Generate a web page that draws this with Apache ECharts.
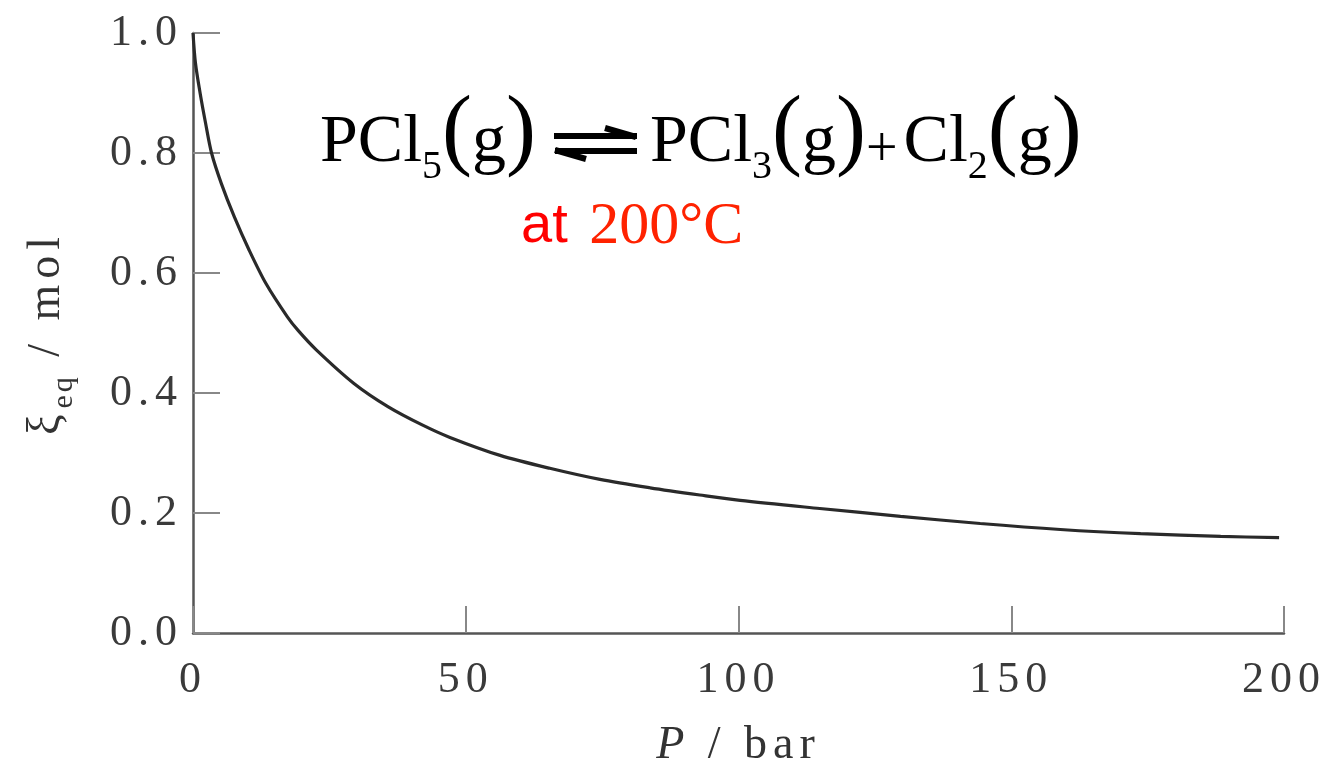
<!DOCTYPE html>
<html>
<head>
<meta charset="utf-8">
<script src="https://cdn.jsdelivr.net/npm/echarts@6/dist/echarts.min.js"></script>
<style>
html,body{margin:0;padding:0;background:#fff;}
#chart{width:1330px;height:762px;}
</style>
</head>
<body>
<div id="chart"></div>
<script>
// Data
const pressure = [0, 0.45, 1.3, 2.3, 3.4, 5.2, 7.6, 10.3, 13.4, 17.3, 19.3, 22.6, 29.5, 35.8, 42.2, 47.1, 56.3, 65.4, 74.6, 83.8, 92.9, 100.3, 114.9, 129.7, 144.3, 159.0, 173.7, 188.4, 199.1];
const xiEq = [1.0, 0.95, 0.90, 0.85, 0.80, 0.749, 0.693, 0.638, 0.582, 0.527, 0.504, 0.472, 0.416, 0.377, 0.346, 0.326, 0.296, 0.2745, 0.256, 0.242, 0.230, 0.221, 0.2075, 0.1945, 0.1825, 0.1725, 0.1655, 0.161, 0.159];
const xTickLabels = ['0', '50', '100', '150', '200'];
const yTickLabels = ['0.0', '0.2', '0.4', '0.6', '0.8', '1.0'];
const xTickValues = [0, 50, 100, 150, 200];
const yTickValues = [0, 0.2, 0.4, 0.6, 0.8, 1.0];

// Wide tracking of the axis texts (canvas letterSpacing, chosen by font size)
(function () {
  const P = CanvasRenderingContext2D.prototype;
  const spacingFor = function (f) {
    if (/(^|\s)(44|46)px/.test(f)) return '6px';
    if (/(^|\s)30px/.test(f)) return '3px';
    return '0px';
  };
  const ft = P.fillText, mt = P.measureText;
  P.fillText = function () { this.letterSpacing = spacingFor(this.font); return ft.apply(this, arguments); };
  P.measureText = function () { this.letterSpacing = spacingFor(this.font); return mt.apply(this, arguments); };
})();

const serif = 'Liberation Serif';
const sans = 'Liberation Sans';

const chart = echarts.init(document.getElementById('chart'), null, {renderer: 'canvas', width: 1330, height: 762});

const seriesData = pressure.map((p, i) => [p, xiEq[i]]);

function tickLabel(values, labels) {
  return function (v) {
    for (let i = 0; i < values.length; i++) {
      if (Math.abs(values[i] - v) < 1e-6) return labels[i];
    }
    return '';
  };
}

const option = {
  backgroundColor: '#fff',
  animation: false,
  grid: {left: 193, right: 46, top: 33, bottom: 129, containLabel: false, outerBoundsMode: 'none'},
  xAxis: {
    type: 'value', min: 0, max: 200, interval: 50,
    name: '{i|P}{n| / bar}',
    nameLocation: 'middle', nameGap: 87,
    nameTextStyle: {
      rich: {
        i: {fontFamily: serif, fontStyle: 'italic', fontSize: 46, color: '#333'},
        n: {fontFamily: serif, fontSize: 46, color: '#333'}
      }
    },
    axisLine: {show: true, onZero: false, lineStyle: {color: '#555', width: 2.5}},
    axisTick: {show: true, inside: true, length: 27, lineStyle: {color: '#888', width: 2}},
    axisLabel: {show: true, margin: 22, fontFamily: serif, fontSize: 44, color: '#3a3a3a',
      formatter: tickLabel(xTickValues, xTickLabels)},
    splitLine: {show: false}
  },
  yAxis: {
    type: 'value', min: 0, max: 1, interval: 0.2,
    name: '{g|ξ}{sub|eq}{n| / mol}',
    nameLocation: 'middle', nameRotate: 90, nameGap: 112,
    nameTextStyle: {
      rich: {
        g: {fontFamily: serif, fontSize: 46, color: '#333'},
        sub: {fontFamily: serif, fontSize: 30, color: '#333', padding: [36, 0, 0, 0]},
        n: {fontFamily: serif, fontSize: 46, color: '#333'}
      }
    },
    axisLine: {show: true, onZero: false, lineStyle: {color: '#555', width: 2.5}},
    axisTick: {show: true, inside: true, length: 27, lineStyle: {color: '#888', width: 2}},
    axisLabel: {show: true, margin: 10, fontFamily: serif, fontSize: 44, color: '#3a3a3a',
      formatter: tickLabel(yTickValues, yTickLabels)},
    splitLine: {show: false}
  },
  graphic: [
    {
      type: 'text', left: 320, top: 89,
      style: {
        text: '{m|PCl}{s|5}{p|(}{m|g}{p|)}',
        rich: {
          m: {fontFamily: serif, fontSize: 68, fill: '#000'},
          s: {fontFamily: serif, fontSize: 40, fill: '#000', padding: [49, 0, 0, 0]},
          p: {fontFamily: serif, fontSize: 90, fill: '#000', padding: [0, 0, 18, 0]}
        }
      }
    },
    {
      type: 'group', left: 551, top: 125,
      children: [
        {type: 'line', shape: {x1: 0, y1: 11, x2: 83, y2: 11}, style: {stroke: '#000', lineWidth: 6}},
        {type: 'line', shape: {x1: 51, y1: 3, x2: 82, y2: 12}, style: {stroke: '#000', lineWidth: 6}},
        {type: 'line', shape: {x1: 1, y1: 26, x2: 83, y2: 26}, style: {stroke: '#000', lineWidth: 6}},
        {type: 'line', shape: {x1: 1, y1: 25, x2: 32, y2: 34}, style: {stroke: '#000', lineWidth: 6}}
      ]
    },
    {
      type: 'text', left: 650, top: 89,
      style: {
        text: '{m|PCl}{s|3}{p|(}{m|g}{p|)}{plus|+}{m|Cl}{s|2}{p|(}{m|g}{p|)}',
        rich: {
          m: {fontFamily: serif, fontSize: 68, fill: '#000'},
          s: {fontFamily: serif, fontSize: 40, fill: '#000', padding: [49, 0, 0, 0]},
          p: {fontFamily: serif, fontSize: 90, fill: '#000', padding: [0, 0, 18, 0]},
          plus: {fontFamily: serif, fontSize: 56, fill: '#000', padding: [17, 6, 0, 0]}
        }
      }
    },
    {
      type: 'text', left: 521, top: 197,
      style: {
        text: '{a|at }{b|200°C}',
        rich: {
          a: {fontFamily: sans, fontSize: 56, fill: '#ff0000'},
          b: {fontFamily: serif, fontSize: 60, fill: '#ff2200', padding: [0, 0, 0, 6]}
        }
      }
    }
  ],
  series: [{
    type: 'line',
    data: seriesData,
    showSymbol: false,
    smooth: 0.3,
    lineStyle: {color: '#2a2a2a', width: 3.2},
    silent: true
  }]
};
chart.setOption(option);
</script>
</body>
</html>
